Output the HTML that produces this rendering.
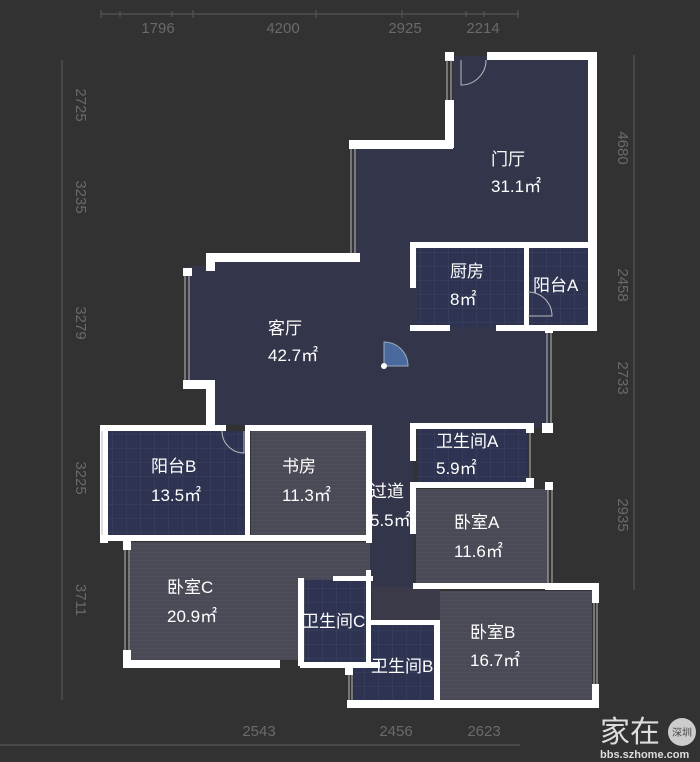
<!DOCTYPE html>
<html><head><meta charset="utf-8"><style>
html,body{margin:0;padding:0;background:#323232;}
svg{display:block}
text{font-family:"Liberation Sans","Noto Sans CJK SC",sans-serif;}
</style></head><body>
<svg width="700" height="762" viewBox="0 0 700 762" xmlns="http://www.w3.org/2000/svg">
<defs>
<pattern id="tile" width="14" height="14" patternUnits="userSpaceOnUse">
<rect width="14" height="14" fill="#2d3350"/><path d="M0 0H14M0 0V14" stroke="#3d4462" stroke-width="1"/></pattern>
<pattern id="wood" width="4" height="4" patternUnits="userSpaceOnUse">
<rect width="4" height="4" fill="#4a4a56"/><path d="M0 0H4" stroke="#545462" stroke-width="1"/></pattern>
</defs>
<rect width="700" height="762" fill="#323232"/>
<g stroke="#555" stroke-width="1.2" fill="none">
<line x1="101" y1="14" x2="519" y2="14"/>
<path d="M101 10V18M120 11V17M172 11V17M193 10V18M316 10V18M402 10V18M466 11V17M484 11V17M518 10V18"/>
<line x1="62" y1="60" x2="62" y2="700"/>
<line x1="634" y1="55" x2="634" y2="590"/>
<line x1="0" y1="745" x2="520" y2="745"/>
</g>
<g fill="#6a6a6a" font-size="15" text-anchor="middle">
<text x="158" y="33">1796</text><text x="283" y="33">4200</text><text x="405" y="33">2925</text><text x="483" y="33">2214</text>
<text x="259" y="736">2543</text><text x="396" y="736">2456</text><text x="484" y="736">2623</text>
<g transform="translate(76,105) rotate(90)"><text>2725</text></g>
<g transform="translate(76,197) rotate(90)"><text>3235</text></g>
<g transform="translate(76,323) rotate(90)"><text>3279</text></g>
<g transform="translate(76,478) rotate(90)"><text>3225</text></g>
<g transform="translate(76,600) rotate(90)"><text>3711</text></g>
<g transform="translate(618,148) rotate(90)"><text>4680</text></g>
<g transform="translate(618,285) rotate(90)"><text>2458</text></g>
<g transform="translate(618,378) rotate(90)"><text>2733</text></g>
<g transform="translate(618,515) rotate(90)"><text>2935</text></g>
</g>
<path d="M453 56H592V330H549V428H413V590H370V425H210V386H187V266H210V258H353V144H453Z" fill="#33364a"/>
<rect x="417" y="247" width="108" height="80" fill="url(#tile)"/>
<rect x="528" y="247" width="60" height="80" fill="url(#tile)"/>
<rect x="108" y="431" width="140" height="106" fill="url(#tile)"/>
<rect x="251" y="431" width="117" height="106" fill="url(#wood)"/>
<rect x="130" y="542" width="240" height="118" fill="url(#wood)"/>
<rect x="305" y="580" width="63" height="82" fill="url(#tile)"/>
<rect x="417" y="429" width="110" height="53" fill="url(#tile)"/>
<rect x="416" y="489" width="132" height="94" fill="url(#wood)"/>
<rect x="440" y="591" width="152" height="110" fill="url(#wood)"/>
<rect x="354" y="624" width="80" height="76" fill="url(#tile)"/>
<rect x="372" y="587" width="68" height="35" fill="#3a3a48"/>
<g fill="#fff">
<rect x="445" y="52" width="9" height="9"/><rect x="487" y="52" width="110" height="8"/>
<rect x="588" y="52" width="9" height="278"/>
<rect x="445" y="100" width="9" height="48"/>
<rect x="349" y="140" width="104" height="9"/>
<rect x="206" y="253" width="154" height="9"/>
<rect x="206" y="253" width="9" height="18"/>
<rect x="183" y="268" width="9" height="8"/>
<rect x="183" y="380" width="32" height="9"/>
<rect x="206" y="380" width="9" height="50"/>
<rect x="410" y="242" width="187" height="6"/>
<rect x="410" y="242" width="6" height="46"/>
<rect x="410" y="325" width="40" height="6"/>
<rect x="496" y="325" width="101" height="6"/>
<rect x="524" y="245" width="5" height="85"/>
<rect x="545" y="325" width="8" height="8"/>
<rect x="542" y="423" width="11" height="10"/>
<rect x="100" y="425" width="126" height="6"/><rect x="100" y="425" width="8" height="118"/>
<rect x="100" y="535" width="272" height="6"/>
<rect x="245" y="425" width="127" height="6"/>
<rect x="245" y="425" width="5" height="115"/>
<rect x="366" y="425" width="6" height="118"/>
<rect x="123" y="540" width="8" height="10"/><rect x="123" y="650" width="8" height="18"/>
<rect x="123" y="660" width="157" height="8"/>
<rect x="298" y="578" width="6" height="88"/>
<rect x="333" y="576" width="40" height="5"/>
<rect x="366" y="570" width="5" height="96"/>
<rect x="300" y="662" width="80" height="6"/>
<rect x="410" y="423" width="6" height="38"/>
<rect x="410" y="423" width="124" height="6"/>
<rect x="526" y="423" width="8" height="10"/><rect x="526" y="478" width="8" height="10"/>
<rect x="410" y="482" width="124" height="6"/>
<rect x="410" y="482" width="6" height="52"/>
<rect x="413" y="583" width="140" height="6"/>
<rect x="545" y="482" width="8" height="8"/>
<rect x="545" y="583" width="53" height="7"/>
<rect x="592" y="583" width="7" height="20"/><rect x="592" y="684" width="7" height="22"/>
<rect x="370" y="620" width="66" height="5"/>
<rect x="434" y="620" width="6" height="82"/>
<rect x="347" y="700" width="252" height="8"/>
<rect x="345" y="665" width="8" height="10"/>
</g>
<g stroke="#bbb" stroke-width="1" fill="none">
<path d="M447 60V100M451 60V100M351 149V253M355 149V253M185 276V380M189 276V380M547 333V423M551 333V423M102 431V535M125 550V650M129 550V650M530 433V478M548 490V583M552 490V583M594 603V684M597 603V684M349 675V700M352 675V700"/>
<path d="M461 60V85A25 25 0 0 0 486 60"/>
<path d="M528 292A24 24 0 0 1 552 316H528"/>
<path d="M222 431A22 22 0 0 0 244 453V431"/>
</g>
<path d="M384 366V342A24 24 0 0 1 408 366Z" fill="#4a6a9e" stroke="#9ab" stroke-width="1"/>
<circle cx="384" cy="366" r="3" fill="#fff"/>
<g fill="#fff" font-size="17">
<text x="491" y="165">门厅</text><text x="491" y="192">31.1㎡</text>
<text x="450" y="277">厨房</text><text x="450" y="305">8㎡</text>
<text x="533" y="291">阳台A</text>
<text x="268" y="334">客厅</text><text x="268" y="361">42.7㎡</text>
<text x="151" y="472">阳台B</text><text x="151" y="501">13.5㎡</text>
<text x="282" y="472">书房</text><text x="282" y="501">11.3㎡</text>
<text x="370" y="497">过道</text><text x="370" y="526">5.5㎡</text>
<text x="436" y="447">卫生间A</text><text x="436" y="474">5.9㎡</text>
<text x="454" y="528">卧室A</text><text x="454" y="557">11.6㎡</text>
<text x="167" y="593">卧室C</text><text x="167" y="622">20.9㎡</text>
<text x="302" y="627">卫生间C</text>
<text x="470" y="638">卧室B</text><text x="470" y="666">16.7㎡</text>
<text x="371" y="672">卫生间B</text>
</g>
<text x="600" y="742" fill="#ddd" font-size="30">家在</text>
<circle cx="682" cy="732" r="14" fill="#ccc"/>
<text x="682" y="736" fill="#444" font-size="10" text-anchor="middle">深圳</text>
<text x="600" y="758" fill="#ddd" font-size="11" font-weight="bold">bbs.szhome.com</text>
</svg>
</body></html>
